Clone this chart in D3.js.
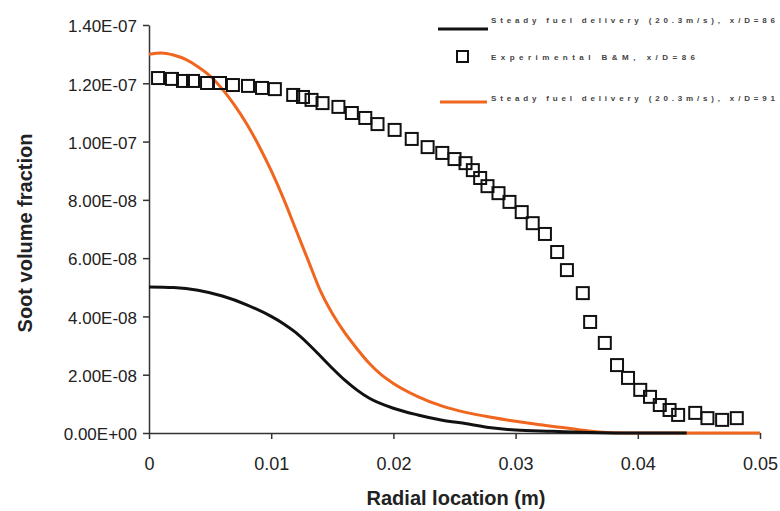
<!DOCTYPE html>
<html lang="en">
<head>
<meta charset="UTF-8">
<title>Soot volume fraction vs radial location</title>
<style>
    body { margin: 0; background: #fff; }
    svg { display: block; font-family: "Liberation Sans", Arial, sans-serif; }
    .tick text { fill: #222; }
    .axis-title { font-weight: bold; fill: #222; }
    .legend-text { font-size: 8px; font-weight: bold; fill: #444; }
</style>
</head>
<body>
<div id="chart"></div>
<script src="https://d3js.org/d3.v7.min.js"></script>
<script>
// Experimental B&M, x/D=86 (square markers)
const expX = [0.00074, 0.00188, 0.00278, 0.0036, 0.00475, 0.00581, 0.00687, 0.0081, 0.00925, 0.0103,
    0.0118, 0.0126, 0.0133, 0.0142, 0.0155, 0.0166, 0.0177, 0.0187, 0.0201, 0.0215,
    0.0228, 0.0240, 0.0250, 0.0259, 0.0265, 0.0271, 0.0277, 0.0286, 0.0295, 0.0305,
    0.0314, 0.0324, 0.0334, 0.0342, 0.0355, 0.0361, 0.0373, 0.0383, 0.0392, 0.0402,
    0.0410, 0.0418, 0.0426, 0.0433, 0.0447, 0.0457, 0.0469, 0.0481];
const expY = [1.218e-7, 1.215e-7, 1.208e-7, 1.208e-7, 1.201e-7, 1.201e-7, 1.194e-7, 1.191e-7, 1.184e-7, 1.180e-7,
    1.160e-7, 1.153e-7, 1.143e-7, 1.132e-7, 1.119e-7, 1.098e-7, 1.081e-7, 1.060e-7, 1.040e-7, 1.009e-7,
    0.981e-7, 0.961e-7, 0.940e-7, 0.926e-7, 0.902e-7, 0.875e-7, 0.847e-7, 0.823e-7, 0.793e-7, 0.758e-7,
    0.720e-7, 0.683e-7, 0.621e-7, 0.559e-7, 0.480e-7, 0.381e-7, 0.309e-7, 0.233e-7, 0.189e-7, 0.148e-7,
    0.124e-7, 0.096e-7, 0.079e-7, 0.062e-7, 0.069e-7, 0.051e-7, 0.045e-7, 0.051e-7];

// Steady fuel delivery (20.3 m/s), x/D=86 (black line)
const steady86X = [0, 0.002, 0.004, 0.006, 0.008, 0.010, 0.011, 0.012, 0.013, 0.014,
    0.015, 0.016, 0.017, 0.018, 0.020, 0.022, 0.024, 0.026, 0.028, 0.030,
    0.033, 0.036, 0.040, 0.044];
const steady86Y = [0.501e-7, 0.499e-7, 0.490e-7, 0.470e-7, 0.440e-7, 0.400e-7, 0.375e-7, 0.345e-7, 0.307e-7, 0.265e-7,
    0.222e-7, 0.182e-7, 0.148e-7, 0.120e-7, 0.085e-7, 0.062e-7, 0.044e-7, 0.032e-7, 0.018e-7, 0.010e-7,
    0.006e-7, 0.002e-7, 0, 0];

// Steady fuel delivery (20.3 m/s), x/D=91 (orange line)
const steady91X = [0, 0.001, 0.002, 0.003, 0.004, 0.005, 0.006, 0.007, 0.008, 0.009,
    0.010, 0.011, 0.012, 0.013, 0.014, 0.015, 0.016, 0.017, 0.018, 0.019,
    0.020, 0.022, 0.024, 0.026, 0.028, 0.030, 0.032, 0.034, 0.036, 0.038,
    0.040, 0.050];
const steady91Y = [1.300e-7, 1.304e-7, 1.297e-7, 1.282e-7, 1.257e-7, 1.225e-7, 1.180e-7, 1.125e-7, 1.060e-7, 0.985e-7,
    0.900e-7, 0.805e-7, 0.700e-7, 0.595e-7, 0.490e-7, 0.410e-7, 0.345e-7, 0.290e-7, 0.240e-7, 0.200e-7,
    0.170e-7, 0.125e-7, 0.092e-7, 0.070e-7, 0.054e-7, 0.040e-7, 0.028e-7, 0.018e-7, 0.007e-7, 0.001e-7,
    0, 0];

const xTicks = [0, 0.01, 0.02, 0.03, 0.04, 0.05];
const yTicks = [0, 2e-8, 4e-8, 6e-8, 8e-8, 1e-7, 1.2e-7, 1.4e-7];

const legendLabels = [
    'Steady fuel delivery (20.3m/s), x/D=86',
    'Experimental B&M, x/D=86',
    'Steady fuel delivery (20.3m/s), x/D=91'
];

const W = 780, H = 511;
const margin = { top: 25, right: 20, bottom: 78, left: 149 };
const width = 760 - margin.left;
const height = 433 - margin.top;

const svg = d3.select('#chart').append('svg')
    .attr('width', W)
    .attr('height', H);

const g = svg.append('g')
    .attr('transform', `translate(${margin.left},${margin.top})`);

const x = d3.scaleLinear().domain([0, 0.05]).range([0, width]);
const y = d3.scaleLinear().domain([0, 1.4e-7]).range([height, 0]);

// 1.40E-07 style labels
function sci(d) {
    if (d === 0) return '0.00E+00';
    const [m, e] = d.toExponential(2).split('e');
    const n = Math.abs(+e);
    return m + 'E' + (+e < 0 ? '-' : '+') + (n < 10 ? '0' + n : n);
}

const xAxis = g.append('g')
    .attr('transform', `translate(0,${height})`)
    .call(d3.axisBottom(x).tickValues(xTicks).tickSize(6).tickSizeOuter(0)
        .tickFormat(d => d === 0 ? '0' : d3.format('.2f')(d)));
xAxis.selectAll('text').attr('dy', '1.55em').style('font-size', '18px');

const yAxis = g.append('g')
    .call(d3.axisLeft(y).tickValues(yTicks).tickSize(6).tickSizeOuter(0).tickFormat(sci));
yAxis.selectAll('text').attr('x', -12).attr('dy', '0.4em').style('font-size', '17px');

g.selectAll('.domain, .tick line').attr('stroke', '#333').attr('stroke-width', 1.5);

// lines
const line = d3.line().x(d => x(d[0])).y(d => y(d[1])).curve(d3.curveMonotoneX);

g.append('path')
    .datum(steady91X.map((v, i) => [v, steady91Y[i]]))
    .attr('d', line)
    .attr('fill', 'none')
    .attr('stroke', '#f0661e')
    .attr('stroke-width', 3);

g.append('path')
    .datum(steady86X.map((v, i) => [v, steady86Y[i]]))
    .attr('d', line)
    .attr('fill', 'none')
    .attr('stroke', '#111')
    .attr('stroke-width', 3);

// squares
const sq = 12;
g.selectAll('rect.exp')
    .data(expX.map((v, i) => [v, expY[i]]))
    .enter()
    .append('rect')
    .attr('class', 'exp')
    .attr('x', d => x(d[0]) - sq / 2)
    .attr('y', d => y(d[1]) - sq / 2)
    .attr('width', sq)
    .attr('height', sq)
    .attr('fill', 'none')
    .attr('stroke', '#111')
    .attr('stroke-width', 2);

// axis titles
svg.append('text')
    .attr('class', 'axis-title')
    .attr('x', 456)
    .attr('y', 505)
    .attr('text-anchor', 'middle')
    .style('font-size', '20px')
    .text('Radial location (m)');

svg.append('text')
    .attr('class', 'axis-title')
    .attr('transform', 'translate(32,233) rotate(-90)')
    .attr('text-anchor', 'middle')
    .style('font-size', '20px')
    .text('Soot volume fraction');

// legend
const legend = svg.append('g');
legend.append('line')
    .attr('x1', 438).attr('x2', 488).attr('y1', 29).attr('y2', 29)
    .attr('stroke', '#111').attr('stroke-width', 3);
legend.append('rect')
    .attr('x', 457).attr('y', 51).attr('width', 11).attr('height', 11)
    .attr('fill', 'none').attr('stroke', '#111').attr('stroke-width', 2);
legend.append('line')
    .attr('x1', 440).attr('x2', 487).attr('y1', 102).attr('y2', 102)
    .attr('stroke', '#f0661e').attr('stroke-width', 3);

const legendY = [23, 60, 101];
const legendLen = [284, 204, 284];
legend.selectAll('text.legend-text')
    .data(legendLabels)
    .enter()
    .append('text')
    .attr('class', 'legend-text')
    .attr('x', 491)
    .attr('y', (d, i) => legendY[i])
    .attr('textLength', (d, i) => legendLen[i])
    .attr('lengthAdjust', 'spacing')
    .text(d => d);
</script>
</body>
</html>
